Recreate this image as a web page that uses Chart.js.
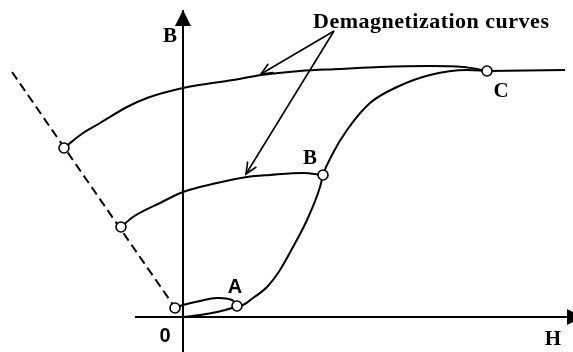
<!DOCTYPE html>
<html>
<head>
<meta charset="utf-8">
<script src="https://cdn.jsdelivr.net/npm/chart.js@4/dist/chart.umd.min.js"></script>
<style>
  html, body { margin: 0; padding: 0; background: #fff; }
  canvas { display: block; }
</style>
</head>
<body>
<canvas id="chart" width="573" height="352"></canvas>
<script>
// Field strength H (x) and flux density B (y), in arbitrary plot units.

// Dashed load line through the recoil starting points
const loadLineH = [-17.1, -0.5];
const loadLineB = [24.5, 0.5];

// Upper demagnetization curve (starts on load line, ends at C)
const upperH = [-11.9, -10.0, -8.3, -5.6, -3.6, 0.0, 5.0, 7.8, 11.7, 15.7, 19.7, 24.7, 28.0, 30.4];
const upperB = [16.9, 18.4, 19.4, 21.0, 21.9, 22.9, 23.7, 24.2, 24.6, 24.8, 25.0, 25.1, 25.0, 24.6];

// Middle demagnetization curve (starts on load line, ends at B)
const middleH = [-6.2, -5.0, -2.3, 0.0, 3.4, 6.4, 8.7, 12.0, 14.0];
const middleB = [9.0, 10.0, 11.4, 12.5, 13.4, 14.0, 14.2, 14.4, 14.2];

// Small return loop from A back to the load line
const loopH = [-0.8, 0.0, 1.7, 3.4, 4.9, 5.4];
const loopB = [0.9, 1.2, 1.6, 1.9, 1.7, 1.1];

// Initial magnetization curve: 0 -> A -> B -> C
const initialH = [0.0, 1.7, 3.4, 4.9, 5.4, 6.0, 7.0, 8.4, 9.7, 11.0, 12.4, 13.7, 14.0, 15.0, 16.4, 18.7, 21.4, 24.7, 28.4, 30.4];
const initialB = [0.0, 0.2, 0.5, 0.9, 1.1, 1.2, 1.9, 3.0, 4.7, 7.0, 9.7, 13.0, 14.2, 16.4, 18.7, 21.4, 23.0, 24.2, 24.7, 24.6];

// Saturated branch beyond C
const tailH = [30.4, 38.2];
const tailB = [24.6, 24.7];

// Marked states (circles)
const markerH = [-11.9, -6.2, -0.8, 5.4, 14.0, 30.4];
const markerB = [16.9, 9.0, 0.9, 1.1, 14.2, 24.6];

// Named states and the marker each one belongs to
const stateNames = ['A', 'B', 'C'];
const stateMarker = [3, 4, 5];

// Callout: start of the pointer lines and their tips on the curves
const calloutText = 'Demagnetization curves';
const calloutFromH = [15.1, 15.1];
const calloutFromB = [28.6, 28.6];
const calloutToH = [7.8, 6.3];
const calloutToB = [24.3, 14.3];

// Axis extents
const axisH = [-4.8, 39.0];
const axisB = [-3.5, 30.7];
const axisNames = ['H', 'B', '0'];

const pts = (xs, ys) => xs.map((x, i) => ({ x, y: ys[i] }));

const curveStyle = {
  showLine: true, pointRadius: 0, borderColor: '#000', borderWidth: 2,
  fill: false, tension: 0.35, cubicInterpolationMode: 'monotone', clip: false
};

const datasets = [
  { data: pts(markerH, markerB), showLine: false, pointRadius: 5, pointBackgroundColor: '#fff',
    pointBorderColor: '#000', pointBorderWidth: 1.6, clip: false },
  { ...curveStyle, data: pts(upperH, upperB) },
  { ...curveStyle, data: pts(middleH, middleB) },
  { ...curveStyle, data: pts(loopH, loopB), cubicInterpolationMode: 'default', tension: 0.4 },
  { ...curveStyle, data: pts(initialH, initialB) },
  { ...curveStyle, data: pts(tailH, tailB), tension: 0 },
  { ...curveStyle, data: pts(loadLineH, loadLineB), tension: 0, borderDash: [9, 5] },
  { ...curveStyle, data: [{ x: calloutFromH[0], y: calloutFromB[0] }, { x: calloutToH[0], y: calloutToB[0] }], tension: 0, borderWidth: 1.6 },
  { ...curveStyle, data: [{ x: calloutFromH[1], y: calloutFromB[1] }, { x: calloutToH[1], y: calloutToB[1] }], tension: 0, borderWidth: 1.6 },
  { ...curveStyle, data: [{ x: axisH[0], y: 0 }, { x: axisH[1], y: 0 }], tension: 0 },
  { ...curveStyle, data: [{ x: 0, y: axisB[0] }, { x: 0, y: axisB[1] }], tension: 0 }
];

// Draws axis arrowheads, pointer heads and all text
const decorations = {
  id: 'decorations',
  afterDatasetsDraw(chart) {
    const { ctx, scales: { x, y } } = chart;
    const px = v => x.getPixelForValue(v);
    const py = v => y.getPixelForValue(v);
    ctx.save();
    ctx.fillStyle = '#000';
    ctx.strokeStyle = '#000';

    // filled arrowheads at the end of each axis
    const x0 = px(0), y0 = py(0);
    const topY = py(axisB[1]);
    ctx.beginPath();
    ctx.moveTo(x0, topY);
    ctx.lineTo(x0 - 8, topY + 16);
    ctx.lineTo(x0 + 8, topY + 16);
    ctx.closePath();
    ctx.fill();
    const endX = px(axisH[1]);
    ctx.beginPath();
    ctx.moveTo(endX + 10, y0);
    ctx.lineTo(endX - 6, y0 - 8);
    ctx.lineTo(endX - 6, y0 + 8);
    ctx.closePath();
    ctx.fill();

    // open heads on the callout pointers
    ctx.lineWidth = 1.6;
    ctx.lineCap = 'round';
    for (let i = 0; i < calloutToH.length; i++) {
      const tx = px(calloutToH[i]), ty = py(calloutToB[i]);
      const fx = px(calloutFromH[i]), fy = py(calloutFromB[i]);
      const ang = Math.atan2(ty - fy, tx - fx);
      const len = 12, spread = 0.42;
      ctx.beginPath();
      ctx.moveTo(tx - len * Math.cos(ang - spread), ty - len * Math.sin(ang - spread));
      ctx.lineTo(tx, ty);
      ctx.lineTo(tx - len * Math.cos(ang + spread), ty - len * Math.sin(ang + spread));
      ctx.stroke();
    }

    // text
    ctx.textAlign = 'center';
    ctx.textBaseline = 'alphabetic';
    const serif = 'bold 21px "Liberation Serif", "DejaVu Serif", serif';
    const sans = 'bold 20px "Liberation Sans", Arial, sans-serif';

    ctx.font = 'bold 22px "Liberation Serif", "DejaVu Serif", serif';
    ctx.textAlign = 'left';
    ctx.letterSpacing = '0.5px';
    ctx.fillText(calloutText, px(calloutFromH[0]) - 21, 28);
    ctx.letterSpacing = '0px';
    ctx.textAlign = 'center';

    const offsets = { A: [-2, -13, sans], B: [-13, -11, serif], C: [14, 26, serif] };
    stateNames.forEach((name, i) => {
      const m = stateMarker[i];
      const [dx, dy, font] = offsets[name];
      ctx.font = font;
      ctx.fillText(name, px(markerH[m]) + dx, py(markerB[m]) + dy);
    });

    ctx.font = serif;
    ctx.fillText(axisNames[0], endX - 20, y0 + 28);
    ctx.fillText(axisNames[1], x0 - 13, topY + 32);
    ctx.font = sans;
    ctx.fillText(axisNames[2], x0 - 18, y0 + 25);
    ctx.restore();
  }
};

new Chart(document.getElementById('chart'), {
  type: 'scatter',
  data: { datasets },
  options: {
    responsive: false,
    animation: false,
    events: [],
    layout: { padding: 0, autoPadding: false },
    plugins: { legend: { display: false }, tooltip: { enabled: false } },
    scales: {
      x: { type: 'linear', display: false, min: -18.3, max: 39.0 },
      y: { type: 'linear', display: false, min: -3.5, max: 31.7 }
    }
  },
  plugins: [decorations]
});
</script>
</body>
</html>
